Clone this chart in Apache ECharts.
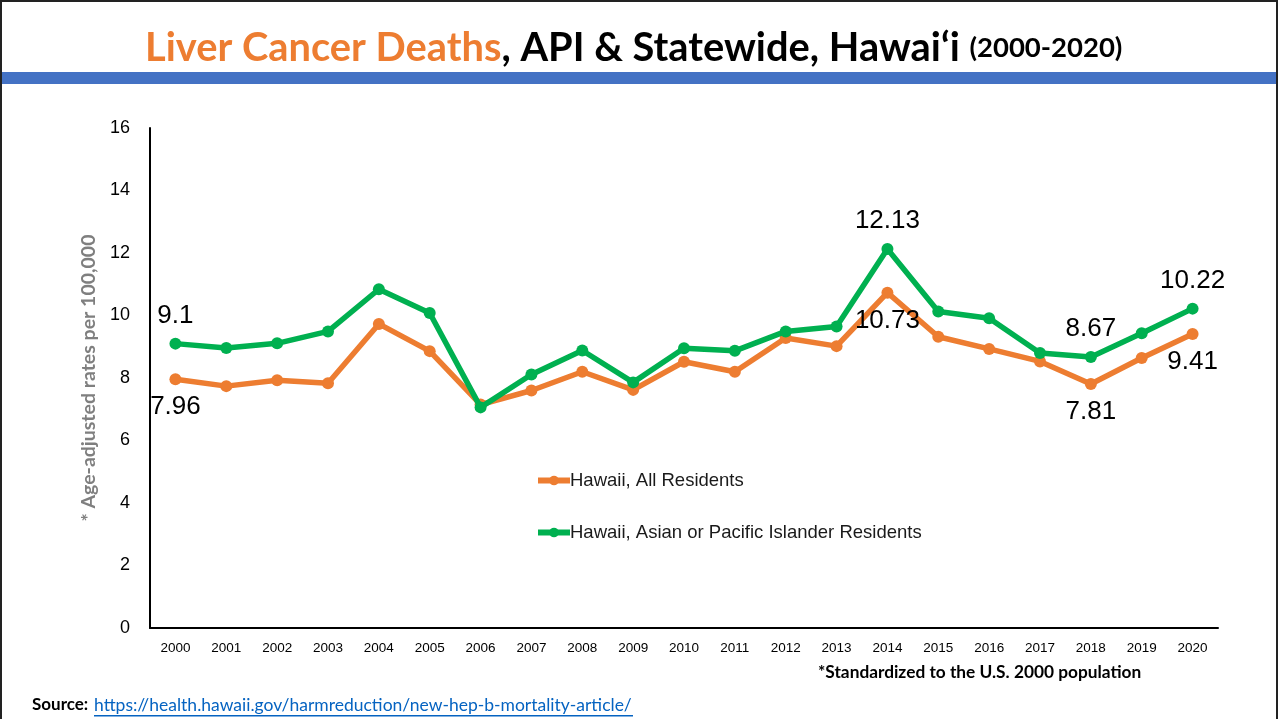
<!DOCTYPE html>
<html>
<head>
<meta charset="utf-8">
<script src="https://cdn.jsdelivr.net/npm/echarts@6/dist/echarts.min.js"></script>
<style>
html,body{margin:0;padding:0;background:#fff;}
#chart{width:1279px;height:719px;}
</style>
</head>
<body>
<div id="chart"></div>
<script>
const years = ['2000','2001','2002','2003','2004','2005','2006','2007','2008','2009','2010','2011','2012','2013','2014','2015','2016','2017','2018','2019','2020'];
const allResidents = [7.96,7.74,7.93,7.83,9.73,8.86,7.15,7.60,8.20,7.62,8.52,8.20,9.28,9.02,10.73,9.32,8.93,8.53,7.81,8.64,9.41];
const apiResidents = [9.1,8.96,9.11,9.49,10.84,10.08,7.06,8.11,8.88,7.86,8.95,8.87,9.49,9.65,12.13,10.13,9.91,8.80,8.67,9.43,10.22];
const yTicks = [0,2,4,6,8,10,12,14,16];
const labeledAll = {'2000':'bottom','2014':'bottom','2018':'bottom','2020':'bottom'};
const labeledApi = {'2000':'top','2014':'top','2018':'top','2020':'top'};

const chart = echarts.init(document.getElementById('chart'));
const labelFont = 'Liberation Sans, Arial, sans-serif';

function buildData(vals, labeled) {
  return vals.map((v, i) => {
    const y = years[i];
    if (labeled[y]) {
      return {value: v, label: {show: true, position: labeled[y], distance: 9, formatter: String(v), fontSize: 26, color: '#000', fontFamily: labelFont}};
    }
    return v;
  });
}

const option = {
  backgroundColor: '#fff',
  animation: false,
  title: {
    text: '{a|Liver Cancer Deaths}{b|, API & Statewide, Hawai‘i }{c|(2000-2020)}',
    left: 140,
    top: 23,
    textStyle: {
      rich: {
        a: {fontFamily: 'Lato, sans-serif', fontWeight: 'bold', fontSize: 39.8, color: '#ED7D31'},
        b: {fontFamily: 'Lato, sans-serif', fontWeight: 'bold', fontSize: 39.8, color: '#000'},
        c: {fontFamily: 'Lato, sans-serif', fontWeight: 'bold', fontSize: 27.5, color: '#000'}
      }
    }
  },
  legend: {
    orient: 'vertical',
    left: 530,
    top: 466,
    itemGap: 33,
    itemWidth: 32,
    itemHeight: 12,
    lineStyle: {width: 6},
    textStyle: {fontFamily: labelFont, fontSize: 18.5, color: '#1a1a1a', padding: [0,0,0,-5]},
    data: ['Hawaii, All Residents', 'Hawaii, Asian or Pacific Islander Residents']
  },
  grid: {left: 150, right: 61, top: 128, bottom: 91},
  xAxis: {
    type: 'category',
    data: years,
    axisLine: {lineStyle: {color: '#000', width: 2}},
    axisTick: {show: false},
    axisLabel: {fontFamily: labelFont, fontSize: 13.5, color: '#000', margin: 13}
  },
  yAxis: {
    type: 'value',
    min: 0, max: 16, interval: 2,
    name: '* Age-adjusted rates per 100,000',
    nameLocation: 'middle',
    nameGap: 46,
    nameTextStyle: {fontFamily: 'Lato, sans-serif', fontWeight: 'bold', fontSize: 19.5, color: '#7F7F7F'},
    axisLine: {show: true, lineStyle: {color: '#000', width: 2}},
    axisTick: {show: false},
    splitLine: {show: false},
    axisLabel: {fontFamily: labelFont, fontSize: 18, color: '#000', margin: 20,
      formatter: v => yTicks.includes(v) ? String(v) : ''}
  },
  series: [
    {
      name: 'Hawaii, All Residents',
      type: 'line',
      data: buildData(allResidents, labeledAll),
      color: '#ED7D31',
      lineStyle: {width: 5.5, color: '#ED7D31'},
      symbol: 'circle', symbolSize: 12,
      itemStyle: {color: '#ED7D31'},
      z: 2
    },
    {
      name: 'Hawaii, Asian or Pacific Islander Residents',
      type: 'line',
      data: buildData(apiResidents, labeledApi),
      color: '#00B050',
      lineStyle: {width: 5.5, color: '#00B050'},
      symbol: 'circle', symbolSize: 12,
      itemStyle: {color: '#00B050'},
      z: 3
    }
  ],
  graphic: [
    {type: 'rect', shape: {x: 1, y: 1, width: 1276, height: 740}, style: {fill: 'none', stroke: '#222', lineWidth: 2}, z: 10},
    {type: 'rect', shape: {x: 2, y: 72, width: 1275, height: 12}, style: {fill: '#4472C4'}, z: 5},
    {type: 'text', left: 818, top: 664, style: {text: '*Standardized to the U.S. 2000 population', fontFamily: 'Lato, sans-serif', fontWeight: 'bold', fontSize: 17.3, fill: '#000'}},
    {type: 'text', left: 32, top: 696, style: {text: 'Source:', fontFamily: 'Lato, sans-serif', fontWeight: 'bold', fontSize: 17, fill: '#000'}},
    {type: 'text', left: 94, top: 696, style: {text: 'https://health.hawaii.gov/harmreduction/new-hep-b-mortality-article/', fontFamily: 'Lato, sans-serif', fontSize: 17.5, fill: '#0563C1'}},
    {type: 'rect', shape: {x: 94, y: 715, width: 539, height: 1.5}, style: {fill: '#0563C1'}}
  ]
};
chart.setOption(option);
</script>
</body>
</html>
